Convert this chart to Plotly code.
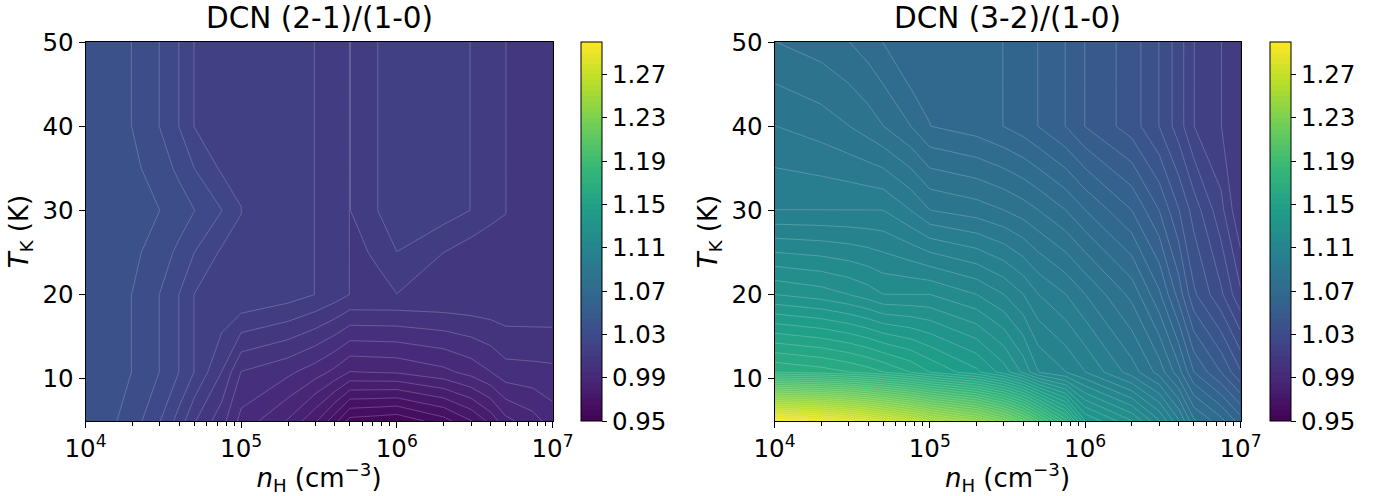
import plotly.graph_objects as go

density = [1e4, 2e4, 3e4, 4e4, 5e4, 7.5e4, 1e5, 2e5, 3e5, 4e5, 5e5, 7.5e5, 1e6, 2e6, 3e6, 4e6, 5e6, 7.5e6, 1e7]
temperature_21 = [5, 10.8, 20, 25, 30, 35, 40, 50]
temperature_32 = [5, 10.8, 20, 30, 40, 45, 50]

ratio_21_10 = [
    [1.0399, 1.0326, 1.0252, 1.0179, 1.0105, 1.0019, 0.9933, 0.9845, 0.9757, 0.9668, 0.9580, 0.9570, 0.9560, 0.9629, 0.9698, 0.9766, 0.9835, 0.9880, 0.9925],
    [1.0399, 1.0349, 1.0299, 1.0249, 1.0199, 1.0099, 0.9998, 0.9961, 0.9923, 0.9886, 0.9848, 0.9852, 0.9855, 0.9886, 0.9918, 0.9949, 0.9980, 0.9984, 0.9988],
    [1.0399, 1.0349, 1.0299, 1.0249, 1.0199, 1.0199, 1.0198, 1.0173, 1.0149, 1.0124, 1.0099, 1.0099, 1.0099, 1.0099, 1.0099, 1.0098, 1.0098, 1.0097, 1.0095],
    [1.0399, 1.0362, 1.0325, 1.0288, 1.0250, 1.0192, 1.0199, 1.0174, 1.0149, 1.0124, 1.0099, 1.01005, 1.0149, 1.00998, 1.00725, 1.0052, 1.0098, 1.0091, 1.0083],
    [1.0399, 1.0375, 1.0350, 1.0326, 1.0301, 1.0251, 1.02001, 1.0175, 1.0149, 1.0124, 1.0099, 1.0149, 1.0199, 1.0175, 1.0149, 1.0125, 1.01002, 1.0085, 1.0070],
    [1.0399, 1.0362, 1.0325, 1.0288, 1.0250, 1.0192, 1.0199, 1.0174, 1.0149, 1.0124, 1.0099, 1.0149, 1.0199, 1.0175, 1.0149, 1.0125, 1.01002, 1.0085, 1.0070],
    [1.0399, 1.0349, 1.0299, 1.0249, 1.0199, 1.0199, 1.0198, 1.0173, 1.0149, 1.0124, 1.0099, 1.0149, 1.0199, 1.0175, 1.0149, 1.0125, 1.01002, 1.0085, 1.0070],
    [1.0399, 1.0349, 1.0299, 1.0249, 1.0199, 1.0199, 1.0198, 1.0173, 1.0149, 1.0124, 1.0099, 1.0149, 1.0199, 1.0175, 1.0149, 1.0125, 1.01002, 1.0085, 1.0070],
]
ratio_32_10 = [
    [1.2995, 1.2934, 1.2873, 1.2811, 1.2750, 1.2650, 1.2550, 1.2400, 1.2250, 1.2100, 1.1950, 1.1675, 1.1400, 1.1253, 1.1105, 1.0958, 1.0810, 1.0718, 1.0625],
    [1.1701, 1.1676, 1.1651, 1.1626, 1.1601, 1.1550, 1.1500, 1.1413, 1.1326, 1.1238, 1.1151, 1.1101, 1.1051, 1.0925, 1.0830, 1.0720, 1.0601, 1.0499, 1.0405],
    [1.1301, 1.1276, 1.1251, 1.1226, 1.1201, 1.1201, 1.1201, 1.1151, 1.1101, 1.1051, 1.1001, 1.0951, 1.0901, 1.0785, 1.0660, 1.0530, 1.0410, 1.0310, 1.0209],
    [1.1001, 1.1001, 1.1001, 1.1001, 1.1001, 1.0951, 1.0901, 1.0876, 1.0851, 1.0826, 1.0801, 1.0751, 1.0701, 1.0600, 1.0500, 1.0403, 1.0330, 1.0216, 1.0102],
    [1.0901, 1.0876, 1.0851, 1.0826, 1.0801, 1.0751, 1.07005, 1.0676, 1.0649, 1.0625, 1.0599, 1.0549, 1.0499, 1.0425, 1.0349, 1.0275, 1.0201, 1.0151, 1.0101],
    [1.0851, 1.0826, 1.0801, 1.0776, 1.0750, 1.0695, 1.0695, 1.0674, 1.0649, 1.0624, 1.0599, 1.0549, 1.0499, 1.0425, 1.0349, 1.0275, 1.0201, 1.0151, 1.0101],
    [1.0801, 1.0776, 1.0751, 1.0725, 1.0699, 1.0699, 1.0698, 1.0673, 1.0649, 1.0624, 1.0599, 1.0549, 1.0499, 1.0425, 1.0349, 1.0275, 1.0201, 1.0151, 1.0101],
]
titles = ["DCN (2-1)/(1-0)", "DCN (3-2)/(1-0)"]
cbar_ticks = [0.95, 0.99, 1.03, 1.07, 1.11, 1.15, 1.19, 1.23, 1.27]
x_ticks = [1e4, 1e5, 1e6, 1e7]
x_labels = ["10<sup>4</sup>", "10<sup>5</sup>", "10<sup>6</sup>", "10<sup>7</sup>"]
y_ticks = [10, 20, 30, 40, 50]
minor_x = [m * 10**e for e in (4, 5, 6) for m in range(2, 10)]

W, H = 1384, 496
FONT = "DejaVu Sans"
plots = [(85.5, 552.5, 580.5), (774.5, 1240.5, 1269.5)]
TOP, BOTTOM = 42, 421

fig = go.Figure()
panels = [(ratio_21_10, temperature_21), (ratio_32_10, temperature_32)]
for i, ((z, temps), (x0, x1, cb)) in enumerate(zip(panels, plots)):
    suffix = "" if i == 0 else "2"
    levels = dict(start=0.95, end=1.30, size=0.005)
    fig.add_trace(go.Contour(
        x=density, y=temps, z=z,
        xaxis="x" + suffix, yaxis="y" + suffix,
        colorscale="Viridis", zmin=0.95, zmax=1.30, zauto=False,
        contours=dict(coloring="fill", showlines=False, **levels),
        line=dict(width=0, smoothing=0),
        colorbar=dict(
            x=cb / W, xanchor="left", xpad=0, ypad=0,
            y=1 - TOP / H, yanchor="top",
            lenmode="pixels", len=BOTTOM - TOP,
            thicknessmode="pixels", thickness=21,
            tickmode="array", tickvals=cbar_ticks, ticktext=[f"{t:.2f}" for t in cbar_ticks],
            ticks="outside", ticklen=5, tickwidth=1, tickcolor="black",
            tickfont=dict(family=FONT, size=24.5, color="black"),
            outlinewidth=1, outlinecolor="black",
        ),
    ))
    fig.add_trace(go.Contour(
        x=density, y=temps, z=z,
        xaxis="x" + suffix, yaxis="y" + suffix,
        showscale=False, colorscale="Viridis", zmin=0.95, zmax=1.30, zauto=False,
        contours=dict(coloring="none", showlines=True, **levels),
        line=dict(color="rgba(255,255,255,0.42)", width=0.5, smoothing=0),
    ))
    common = dict(showline=True, linecolor="black", linewidth=1, mirror=True, showgrid=False,
                  zeroline=False, ticks="outside", tickcolor="black", tickwidth=1, ticklen=6,
                  automargin=False,
                  tickfont=dict(family=FONT, size=24.5, color="black"))
    fig.update_layout(**{
        "xaxis" + suffix: dict(
            type="log", range=[4, 7], domain=[x0 / W, x1 / W], anchor="y" + suffix,
            tickmode="array", tickvals=x_ticks, ticktext=x_labels,
            minor=dict(ticks="outside", ticklen=3.5, tickwidth=0.8, tickcolor="black", tickmode="array", tickvals=minor_x),
            title=dict(text="<i>n</i><sub>H</sub> (cm<sup>−3</sup>)", standoff=4,
                       font=dict(family=FONT, size=26, color="black")),
            **common),
        "yaxis" + suffix: dict(
            range=[5, 50], domain=[1 - BOTTOM / H, 1 - TOP / H], anchor="x" + suffix,
            tickmode="array", tickvals=y_ticks,
            title=dict(text="<i>T</i><sub>K</sub> (K)", standoff=6,
                       font=dict(family=FONT, size=26, color="black")),
            **common),
    })
    fig.add_annotation(text=titles[i], xref="paper", yref="paper", x=(x0 + x1) / 2 / W,
                       y=1 - 37 / H, yanchor="bottom", xanchor="center", showarrow=False,
                       font=dict(family=FONT, size=29.5, color="black"))

fig.update_layout(width=W, height=H, margin=dict(l=0, r=0, t=0, b=0, autoexpand=False),
                  paper_bgcolor="white", plot_bgcolor="white", showlegend=False)
fig.write_html("out.html", config=dict(displayModeBar=False),
               post_script="document.body.style.margin='0';document.body.style.overflow='hidden';")
